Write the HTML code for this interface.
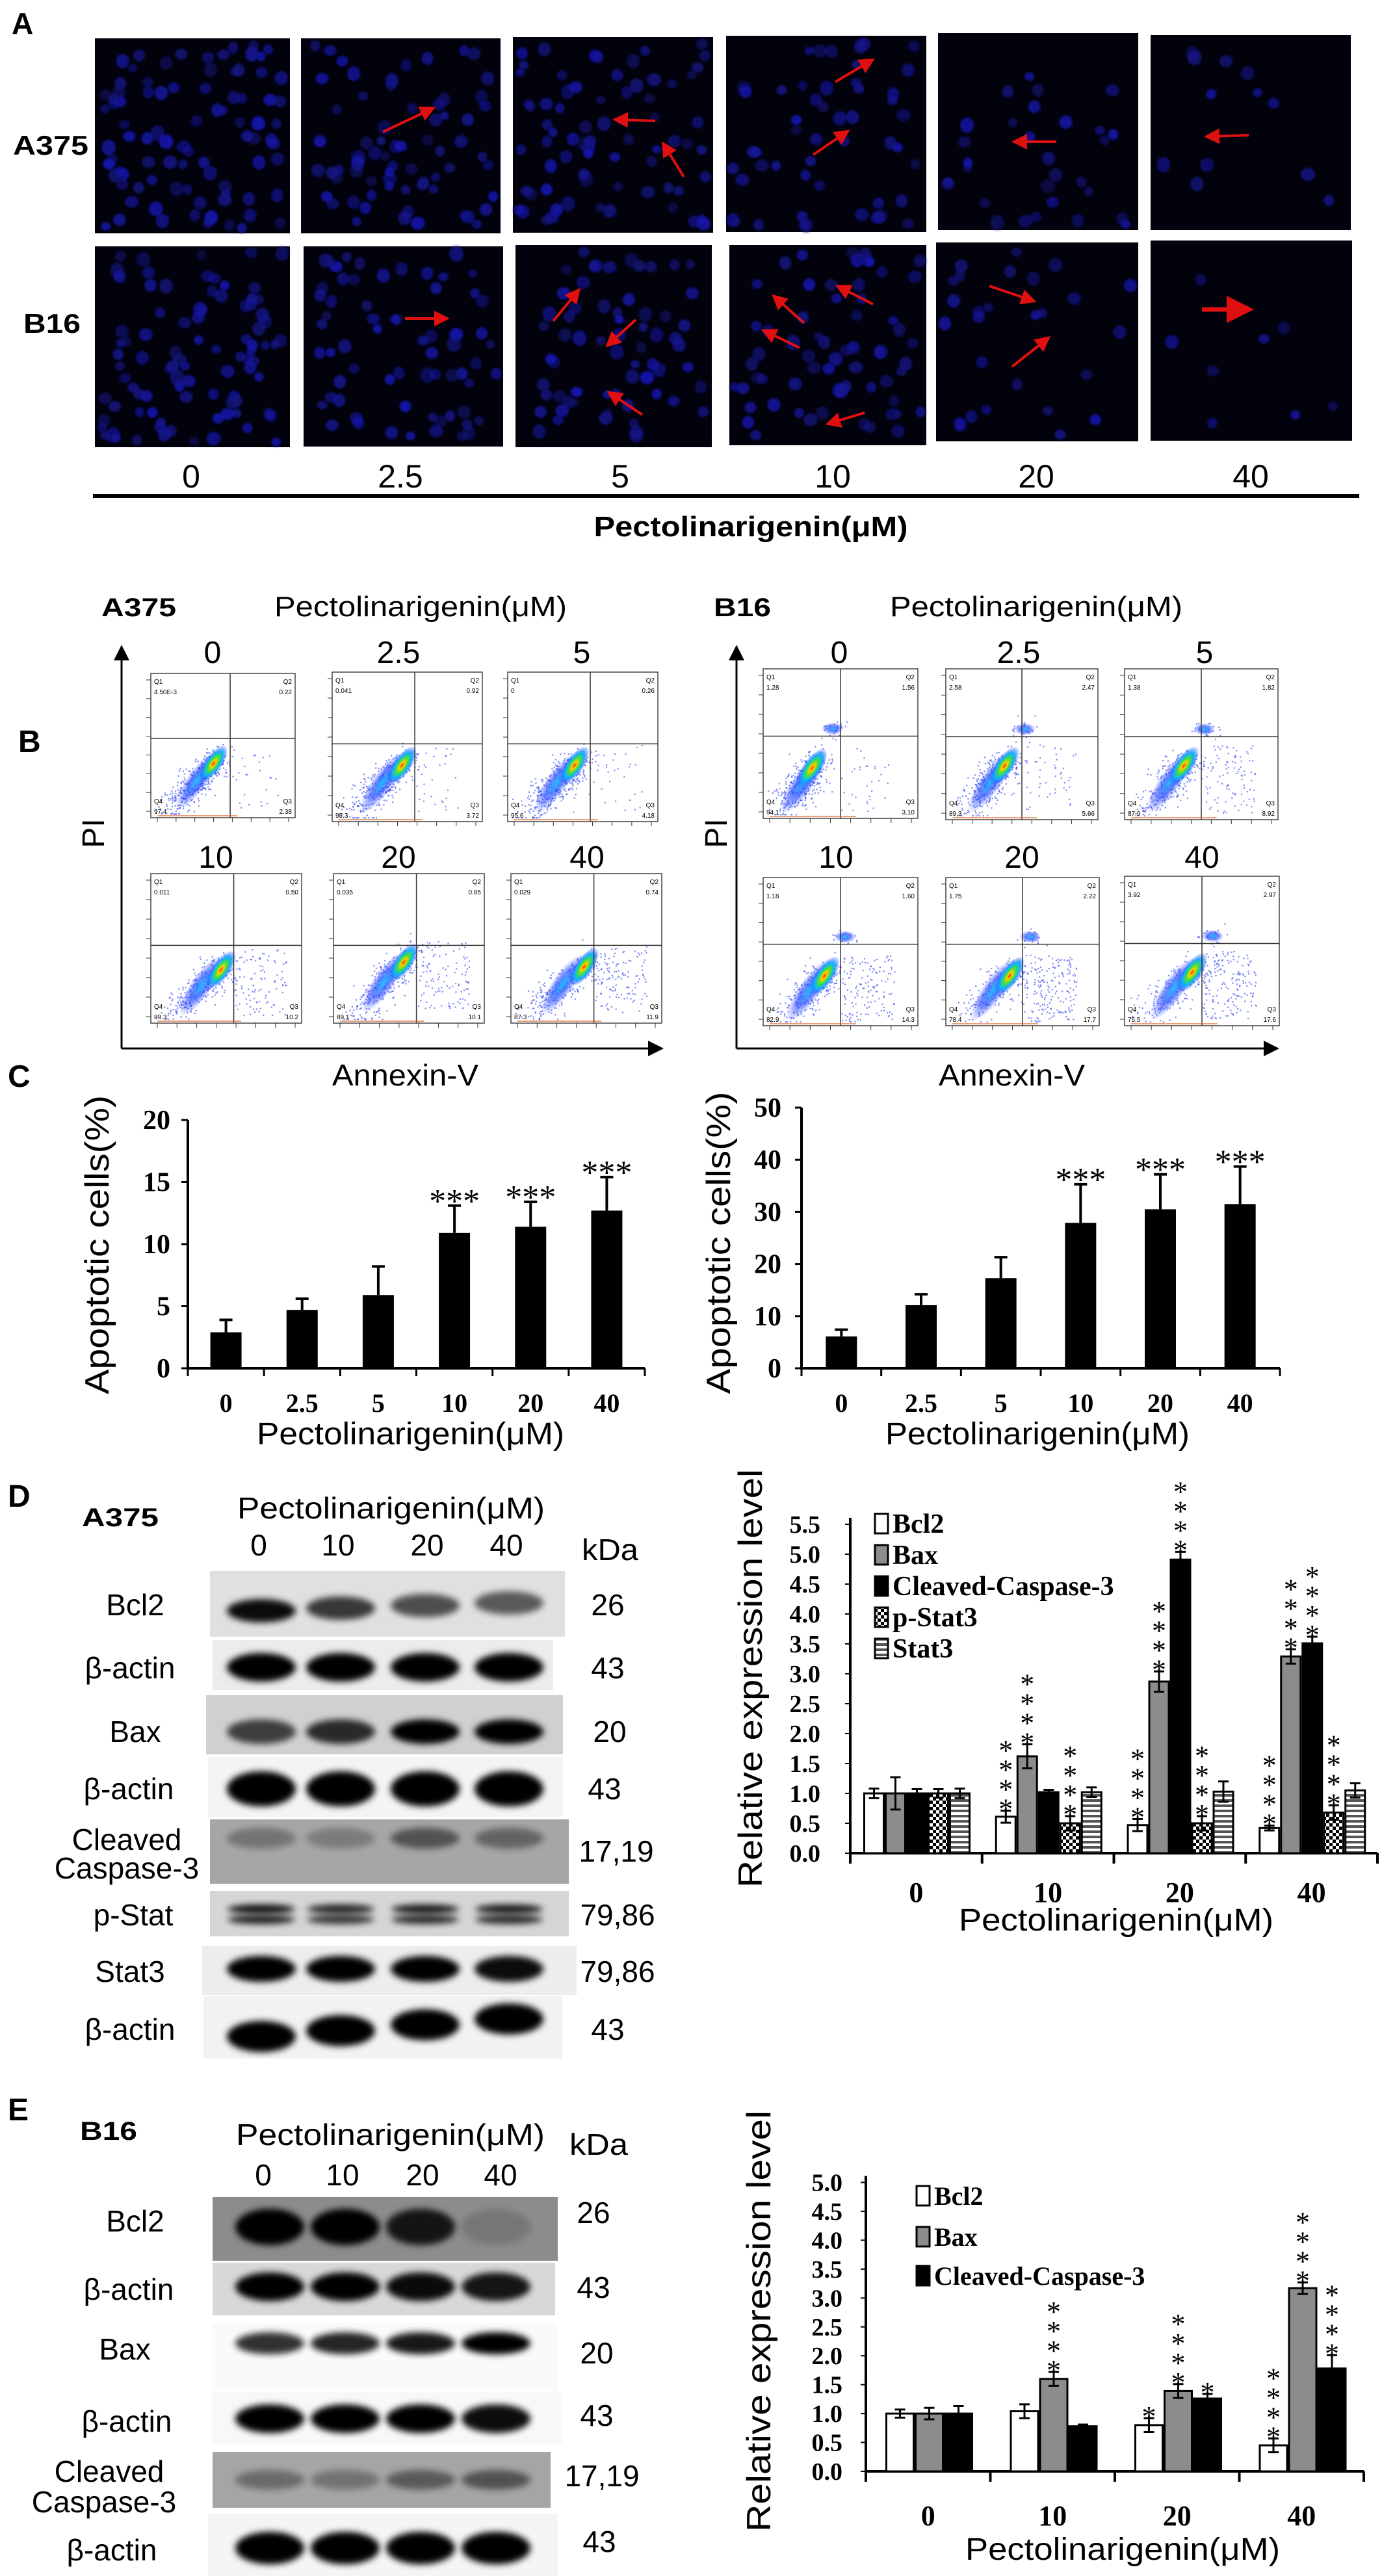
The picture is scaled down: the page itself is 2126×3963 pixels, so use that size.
<!DOCTYPE html>
<html><head><meta charset="utf-8">
<style>
html,body{margin:0;padding:0;background:#fff;width:2126px;height:3963px;overflow:hidden}
svg{display:block}
.s{font-family:"Liberation Sans",sans-serif}
.sb{font-family:"Liberation Sans",sans-serif;font-weight:bold}
.tb{font-family:"Liberation Serif",serif;font-weight:bold}
.t{font-family:"Liberation Serif",serif}
</style></head>
<body>
<svg id="fig" width="2126" height="3963" viewBox="0 0 2126 3963" xmlns="http://www.w3.org/2000/svg">
<defs>
  <marker id="redhead" markerWidth="6" markerHeight="6" refX="4" refY="3" orient="auto" markerUnits="strokeWidth"><path d="M0,0 L6,3 L0,6 z" fill="#e01010"/></marker>
  <marker id="blkhead" markerWidth="8" markerHeight="8" refX="6" refY="4" orient="auto" markerUnits="strokeWidth"><path d="M0,0 L8,4 L0,8 z" fill="#000"/></marker>
  <radialGradient id="hot">
    <stop offset="0%" stop-color="#ff2000"/>
    <stop offset="18%" stop-color="#ffd000"/>
    <stop offset="40%" stop-color="#40e040"/>
    <stop offset="65%" stop-color="#10b0ff"/>
    <stop offset="100%" stop-color="#2040ff" stop-opacity="0"/>
  </radialGradient>
  <radialGradient id="cool">
    <stop offset="0%" stop-color="#20c0ff"/>
    <stop offset="50%" stop-color="#3050ff" stop-opacity="0.7"/>
    <stop offset="100%" stop-color="#3050ff" stop-opacity="0"/>
  </radialGradient>
  <filter id="blur" x="-30%" y="-60%" width="160%" height="220%"><feGaussianBlur stdDeviation="5"/></filter>
  <filter id="soft" x="-50%" y="-50%" width="200%" height="200%"><feGaussianBlur stdDeviation="1.5"/></filter>
  <pattern id="checker" width="10" height="10" patternUnits="userSpaceOnUse"><rect width="10" height="10" fill="#fff"/><rect width="5" height="5" fill="#000"/><rect x="5" y="5" width="5" height="5" fill="#000"/></pattern>
  <pattern id="stripes" width="8" height="8" patternUnits="userSpaceOnUse"><rect width="8" height="8" fill="#fff"/><rect width="8" height="4" fill="#555"/></pattern>
</defs>

<g id="panelA">
  <text class="sb" x="18" y="52" font-size="46">A</text>
  <text class="sb" x="20" y="238" font-size="42" textLength="116" lengthAdjust="spacingAndGlyphs">A375</text>
  <text class="sb" x="36" y="512" font-size="42" textLength="88" lengthAdjust="spacingAndGlyphs">B16</text>
  <g class="s" font-size="50" text-anchor="middle">
    <text x="294" y="750">0</text><text x="616" y="750">2.5</text><text x="954" y="750">5</text>
    <text x="1281" y="750">10</text><text x="1594" y="750">20</text><text x="1924" y="750">40</text>
  </g>
  <rect x="143" y="760" width="1948" height="6" fill="#000"/>
  <text class="sb" x="1155" y="825" font-size="44" text-anchor="middle" textLength="483" lengthAdjust="spacingAndGlyphs">Pectolinarigenin(μM)</text>
</g>

<g id="panelB">
  <text class="sb" x="156" y="948" font-size="40" textLength="115" lengthAdjust="spacingAndGlyphs">A375</text>
  <text class="s" x="422" y="948" font-size="44" textLength="450" lengthAdjust="spacingAndGlyphs">Pectolinarigenin(μM)</text>
  <text class="sb" x="1098" y="948" font-size="40" textLength="88" lengthAdjust="spacingAndGlyphs">B16</text>
  <text class="s" x="1369" y="948" font-size="44" textLength="450" lengthAdjust="spacingAndGlyphs">Pectolinarigenin(μM)</text>
  <text class="sb" x="28" y="1157" font-size="48">B</text>
  <g class="s" font-size="48" text-anchor="middle">
    <text x="327" y="1020">0</text><text x="613" y="1020">2.5</text><text x="895" y="1020">5</text>
    <text x="1291" y="1020">0</text><text x="1567" y="1020">2.5</text><text x="1853" y="1020">5</text>
    <text x="332" y="1335">10</text><text x="613" y="1335">20</text><text x="903" y="1335">40</text>
    <text x="1286" y="1335">10</text><text x="1572" y="1335">20</text><text x="1849" y="1335">40</text>
  </g>
  <line x1="187" y1="1613" x2="187" y2="998" stroke="#000" stroke-width="3" marker-end="url(#blkhead)"/>
  <line x1="187" y1="1613" x2="1015" y2="1613" stroke="#000" stroke-width="3" marker-end="url(#blkhead)"/>
  <line x1="1133" y1="1613" x2="1133" y2="998" stroke="#000" stroke-width="3" marker-end="url(#blkhead)"/>
  <line x1="1133" y1="1613" x2="1962" y2="1613" stroke="#000" stroke-width="3" marker-end="url(#blkhead)"/>
  <text class="s" font-size="48" transform="translate(160,1282) rotate(-90)" text-anchor="middle">PI</text>
  <text class="s" font-size="48" transform="translate(1118,1282) rotate(-90)" text-anchor="middle">PI</text>
  <text class="s" x="511" y="1670" font-size="46" textLength="225" lengthAdjust="spacingAndGlyphs">Annexin-V</text>
  <text class="s" x="1444" y="1670" font-size="46" textLength="225" lengthAdjust="spacingAndGlyphs">Annexin-V</text>
</g>

<g id="panelC">
  <text class="sb" x="12" y="1672" font-size="48">C</text>
  <text class="s" font-size="52" transform="translate(150,1915) rotate(-90)" text-anchor="middle" dominant-baseline="central" textLength="460" lengthAdjust="spacingAndGlyphs">Apoptotic cells(%)</text>
  <text class="s" font-size="52" transform="translate(1106,1912) rotate(-90)" text-anchor="middle" dominant-baseline="central" textLength="465" lengthAdjust="spacingAndGlyphs">Apoptotic cells(%)</text>
  <text class="s" x="395" y="2222" font-size="48" textLength="473" lengthAdjust="spacingAndGlyphs">Pectolinarigenin(μM)</text>
  <text class="s" x="1362" y="2222" font-size="48" textLength="468" lengthAdjust="spacingAndGlyphs">Pectolinarigenin(μM)</text>
</g>

<g id="panelD">
  <text class="sb" x="12" y="2318" font-size="48">D</text>
  <text class="sb" x="126" y="2348" font-size="40" textLength="118" lengthAdjust="spacingAndGlyphs">A375</text>
  <text class="s" x="365" y="2336" font-size="46" textLength="473" lengthAdjust="spacingAndGlyphs">Pectolinarigenin(μM)</text>
  <g class="s" font-size="46" text-anchor="middle">
    <text x="398" y="2393">0</text><text x="520" y="2393">10</text><text x="657" y="2393">20</text><text x="779" y="2393">40</text>
  </g>
  <text class="s" x="895" y="2400" font-size="46" textLength="87" lengthAdjust="spacingAndGlyphs">kDa</text>
  <g class="s" font-size="46" text-anchor="middle">
    <text x="208" y="2485">Bcl2</text><text x="200" y="2582">β-actin</text><text x="208" y="2680">Bax</text>
    <text x="198" y="2768">β-actin</text><text x="195" y="2846">Cleaved</text><text x="195" y="2890">Caspase-3</text>
    <text x="205" y="2962">p-Stat</text><text x="200" y="3049">Stat3</text><text x="200" y="3138">β-actin</text>
  </g>
  <g class="s" font-size="46" text-anchor="middle">
    <text x="935" y="2485">26</text><text x="935" y="2582">43</text><text x="938" y="2680">20</text>
    <text x="930" y="2768">43</text><text x="948" y="2864">17,19</text><text x="950" y="2962">79,86</text>
    <text x="950" y="3049">79,86</text><text x="935" y="3138">43</text>
  </g>
  <text class="s" font-size="52" transform="translate(1155,2582) rotate(-90)" text-anchor="middle" dominant-baseline="central" textLength="644" lengthAdjust="spacingAndGlyphs">Relative expression level</text>
  <text class="s" x="1475" y="2970" font-size="48" textLength="484" lengthAdjust="spacingAndGlyphs">Pectolinarigenin(μM)</text>
</g>

<g id="panelE">
  <text class="sb" x="12" y="3262" font-size="48">E</text>
  <text class="sb" x="123" y="3292" font-size="40" textLength="88" lengthAdjust="spacingAndGlyphs">B16</text>
  <text class="s" x="363" y="3300" font-size="46" textLength="475" lengthAdjust="spacingAndGlyphs">Pectolinarigenin(μM)</text>
  <text class="s" x="876" y="3315" font-size="46" textLength="90" lengthAdjust="spacingAndGlyphs">kDa</text>
  <g class="s" font-size="46" text-anchor="middle">
    <text x="405" y="3362">0</text><text x="527" y="3362">10</text><text x="650" y="3362">20</text><text x="770" y="3362">40</text>
  </g>
  <g class="s" font-size="46" text-anchor="middle">
    <text x="208" y="3433">Bcl2</text><text x="198" y="3538">β-actin</text><text x="192" y="3630">Bax</text>
    <text x="195" y="3741">β-actin</text><text x="168" y="3818">Cleaved</text><text x="160" y="3865">Caspase-3</text>
    <text x="172" y="3939">β-actin</text>
  </g>
  <g class="s" font-size="46" text-anchor="middle">
    <text x="913" y="3420">26</text><text x="913" y="3535">43</text><text x="918" y="3636">20</text>
    <text x="918" y="3732">43</text><text x="926" y="3825">17,19</text><text x="922" y="3926">43</text>
  </g>
  <text class="s" font-size="52" transform="translate(1168,3571) rotate(-90)" text-anchor="middle" dominant-baseline="central" textLength="648" lengthAdjust="spacingAndGlyphs">Relative expression level</text>
  <text class="s" x="1485" y="3938" font-size="48" textLength="484" lengthAdjust="spacingAndGlyphs">Pectolinarigenin(μM)</text>
</g>
</svg>

<script>
const cCats = ['0','2.5','5','10','20','40'];
const cA375Vals = [2.9, 4.7, 5.9, 10.9, 11.4, 12.7];
const cA375Errs = [1.0, 0.9, 2.3, 2.2, 2.0, 2.7];
const cA375Ticks = ['0','5','10','15','20'];
const cB16Vals = [6.1, 12.1, 17.3, 27.9, 30.5, 31.5];
const cB16Errs = [1.3, 2.1, 4.0, 7.4, 6.7, 7.2];
const cB16Ticks = ['0','10','20','30','40','50'];
const cStars = ['', '', '', '***', '***', '***'];

const dGroups = ['0','10','20','40'];
const dSeriesNames = ['Bcl2','Bax','Cleaved-Caspase-3','p-Stat3','Stat3'];
const dBcl2 = [1.0, 0.61, 0.47, 0.42];
const dBax = [1.0, 1.62, 2.87, 3.29];
const dCasp = [1.0, 1.02, 4.91, 3.51];
const dPStat3 = [1.0, 0.50, 0.50, 0.68];
const dStat3 = [1.0, 1.02, 1.03, 1.05];
const dBcl2Err = [0.08, 0.1, 0.1, 0.04];
const dBaxErr = [0.27, 0.2, 0.17, 0.12];
const dCaspErr = [0.07, 0.04, 0.13, 0.11];
const dPStat3Err = [0.07, 0.12, 0.12, 0.12];
const dStat3Err = [0.08, 0.08, 0.17, 0.12];
const dBcl2Stars = [0, 4, 4, 4];
const dBaxStars = [0, 4, 4, 4];
const dCaspStars = [0, 0, 4, 4];
const dPStat3Stars = [0, 4, 4, 4];
const dStat3Stars = [0, 0, 0, 0];
const dTicks = ['0.0','0.5','1.0','1.5','2.0','2.5','3.0','3.5','4.0','4.5','5.0','5.5'];

const eGroups = ['0','10','20','40'];
const eSeriesNames = ['Bcl2','Bax','Cleaved-Caspase-3'];
const eBcl2 = [1.0, 1.04, 0.80, 0.45];
const eBax = [1.0, 1.60, 1.39, 3.17];
const eCasp = [1.0, 0.78, 1.26, 1.78];
const eBcl2Err = [0.07, 0.12, 0.12, 0.12];
const eBaxErr = [0.1, 0.12, 0.12, 0.1];
const eCaspErr = [0.13, 0.03, 0.08, 0.23];
const eBcl2Stars = [0, 0, 1, 4];
const eBaxStars = [0, 4, 4, 4];
const eCaspStars = [0, 0, 1, 4];
const eTicks = ['0.0','0.5','1.0','1.5','2.0','2.5','3.0','3.5','4.0','4.5','5.0'];

const NS = 'http://www.w3.org/2000/svg';
const svg = document.getElementById('fig');
function mk(tag, attrs, parent) {
  const e = document.createElementNS(NS, tag);
  for (const k in attrs) e.setAttribute(k, attrs[k]);
  (parent || svg).appendChild(e);
  return e;
}
let seed = 12345;
function rnd() { seed |= 0; seed = seed + 0x6D2B79F5 | 0; let t = Math.imul(seed ^ seed >>> 15, 1 | seed); t = t + Math.imul(t ^ t >>> 7, 61 | t) ^ t; return ((t ^ t >>> 14) >>> 0) / 4294967296; }
function gauss() { let u = rnd() || 1e-6, v = rnd(); return Math.sqrt(-2 * Math.log(u)) * Math.cos(2 * Math.PI * v); }

const micro = [
  [146,59,300,300,90],[463,59,307,300,70],[789,57,308,301,70],[1117,55,308,302,50],[1443,51,308,303,30],[1770,54,308,300,12],
  [146,379,300,309,90],[467,379,307,308,65],[793,377,302,311,65],[1122,377,303,308,65],[1440,373,311,306,26],[1770,370,310,308,8]
];
const panelA = document.getElementById('panelA');
micro.forEach((m, i) => {
  const g = mk('g', {}, panelA);
  
  
  mk('rect', {x: m[0], y: m[1], width: m[2], height: m[3], fill: '#02020c'}, g);
  for (let k = 0; k < m[4]; k++) {
    const r = 7 + rnd() * 4;
    const c = mk('ellipse', {cx: m[0] + r + rnd() * (m[2] - 2 * r), cy: m[1] + r + rnd() * (m[3] - 2 * r), rx: r, ry: r * (0.85 + rnd() * 0.3), fill: 'rgb(20,25,' + (120 + Math.floor(rnd() * 70)) + ')', opacity: (0.45 + rnd() * 0.45).toFixed(2), filter: 'url(#soft)'}, g);
    
  }
});
const arrows = [
  [589,203,663,168],[1008,186,950,184],[1052,272,1022,224],[1285,126,1339,94],[1251,238,1301,204],[1625,218,1564,218],[1921,208,1860,210],
  [623,490,684,490],[851,494,888,449],[978,492,937,529],[988,638,940,606],[1237,497,1193,458],[1343,468,1292,442],[1230,535,1178,510],[1330,635,1277,651],
  [1522,440,1587,462],[1557,564,1610,522],[1849,476,1915,476]
];
arrows.forEach((a, i) => {
  const l = mk('line', {x1: a[0], y1: a[1], x2: a[2], y2: a[3], stroke: '#e01010', 'stroke-width': i === arrows.length - 1 ? 7 : 4, 'marker-end': 'url(#redhead)'}, panelA);
  
  
});

const flows = [
  [232,1036,222,222,0.47,0.58,0.55,0.45,['4.50E-3','0.22','2.38','97.4'],0],
  [511,1034,231,230,0.50,0.58,0.55,0.48,['0.041','0.92','3.72','95.3'],0],
  [781,1034,231,230,0.48,0.58,0.55,0.48,['0','0.26','4.18','95.6'],0],
  [232,1344,232,230,0.50,0.60,0.55,0.48,['0.011','0.50','10.2','89.3'],0],
  [513,1344,232,230,0.50,0.55,0.55,0.48,['0.035','0.85','10.1','89.1'],0],
  [786,1344,232,230,0.52,0.58,0.55,0.48,['0.029','0.74','11.9','87.3'],0],
  [1174,1029,238,230,0.35,0.62,0.50,0.45,['1.28','1.56','3.10','94.1'],1],
  [1455,1029,234,232,0.42,0.60,0.50,0.45,['2.58','2.47','5.66','89.3'],1],
  [1730,1029,236,232,0.42,0.60,0.50,0.45,['1.38','1.82','8.92','87.9'],1],
  [1174,1350,238,228,0.43,0.62,0.50,0.45,['1.18','1.60','14.3','82.9'],1],
  [1455,1350,236,228,0.45,0.62,0.50,0.45,['1.75','2.22','17.7','78.4'],1],
  [1730,1348,238,230,0.47,0.60,0.50,0.45,['3.92','2.97','17.6','75.5'],1]
];
const panelB = document.getElementById('panelB');
flows.forEach((f) => {
  const [x, y, w, h, hx, hy, vq, hq, nums, b16] = f;
  const g = mk('g', {}, panelB);
  
  
  mk('rect', {x: x, y: y, width: w, height: h, fill: '#fff', stroke: '#444', 'stroke-width': 1.5}, g);
  const q3 = parseFloat(nums[2]);
  const N = 420;
  for (let k = 0; k < N; k++) {
    const t = Math.pow(rnd(), 0.7);
    let px = 0.12 + t * (hx - 0.12) + gauss() * 0.06;
    let py = 0.96 - t * (0.96 - hy) + gauss() * 0.05;
    if (rnd() < q3 / 40) { px = vq + rnd() * 0.35; py = hy - 0.1 + rnd() * 0.45; }
    if (b16 && rnd() < 0.06) { px = hx + 0.1 + gauss() * 0.05; py = hq - 0.05 + gauss() * 0.03; }
    px = Math.min(0.98, Math.max(0.03, px)); py = Math.min(0.97, Math.max(0.03, py));
    mk('rect', {x: x + px * w, y: y + py * h, width: 2.2, height: 2.2, fill: '#2a3cf0', opacity: 0.6}, g);
  }
  mk('ellipse', {cx: x + (0.1 + hx) / 2 * w + 8, cy: y + (0.9 + hy) / 2 * h, rx: w * 0.24, ry: w * 0.07, fill: 'url(#cool)', transform: 'rotate(-55 ' + (x + (0.1 + hx) / 2 * w + 8) + ' ' + (y + (0.9 + hy) / 2 * h) + ')'}, g);
  mk('ellipse', {cx: x + hx * w - 8, cy: y + hy * h + 10, rx: w * 0.15, ry: w * 0.06, fill: 'url(#hot)', transform: 'rotate(-55 ' + (x + hx * w - 8) + ' ' + (y + hy * h + 10) + ')'}, g);
  if (b16) mk('ellipse', {cx: x + (hx + 0.1) * w, cy: y + (hq - 0.05) * h, rx: w * 0.07, ry: w * 0.04, fill: 'url(#cool)'}, g);
  mk('line', {x1: x + vq * w, y1: y, x2: x + vq * w, y2: y + h, stroke: '#333', 'stroke-width': 1.5}, g);
  mk('line', {x1: x, y1: y + hq * h, x2: x + w, y2: y + hq * h, stroke: '#333', 'stroke-width': 1.5}, g);
  const lab = [['Q1', nums[0], x + 5, y + 16, 'start'], ['Q2', nums[1], x + w - 5, y + 16, 'end'], ['Q4', nums[3], x + 5, y + h - 22, 'start'], ['Q3', nums[2], x + w - 5, y + h - 22, 'end']];
  lab.forEach(l => {
    const t1 = mk('text', {x: l[2], y: l[3], 'font-size': 10, 'text-anchor': l[4], 'font-family': 'Liberation Sans, sans-serif'}, g);
    t1.textContent = l[0];
    
    const t2 = mk('text', {x: l[2], y: l[3] + 16, 'font-size': 10, 'text-anchor': l[4], 'font-family': 'Liberation Sans, sans-serif'}, g);
    t2.textContent = l[1];
    
  });
  for (let k = 0; k <= 7; k++) {
    mk('line', {x1: x + 10 + k * (w - 20) / 7, y1: y + h, x2: x + 10 + k * (w - 20) / 7, y2: y + h + 7, stroke: '#333', 'stroke-width': 1}, g);
    mk('line', {x1: x - 7, y1: y + h - 10 - k * (h - 20) / 7, x2: x, y2: y + h - 10 - k * (h - 20) / 7, stroke: '#333', 'stroke-width': 1}, g);
  }
  mk('line', {x1: x + 10, y1: y + h - 3, x2: x + w * 0.6, y2: y + h - 3, stroke: '#e06020', 'stroke-width': 2, opacity: 0.6}, g);
});

function blot(parent, name, x, y, w, h, bg, lanes, ints, cy, bh, dbl, tilt) {
  const g = mk('g', {}, parent);
  
  
  mk('rect', {x: x, y: y, width: w, height: h, fill: bg}, g);
  lanes.forEach((lx, i) => {
    const yy = cy - (tilt ? tilt * i : 0);
    if (dbl) {
      mk('ellipse', {cx: lx, cy: yy - 8, rx: 52, ry: 7, fill: '#000', opacity: ints[i], filter: 'url(#blur)'}, g);
      mk('ellipse', {cx: lx, cy: yy + 8, rx: 52, ry: 7, fill: '#000', opacity: ints[i] * 0.9, filter: 'url(#blur)'}, g);
    } else {
      mk('ellipse', {cx: lx, cy: yy, rx: 53, ry: bh / 2, fill: '#000', opacity: ints[i], filter: 'url(#blur)'}, g);
    }
  });
}
const pD = document.getElementById('panelD');
const dL = [402, 524, 654, 783];
blot(pD, 'blot-bcl2', 323, 2417, 546, 101, '#e0e0e0', dL, [0.95, 0.75, 0.65, 0.6], 2478, 36, false, 4);
blot(pD, 'blot-beta-actin-1', 327, 2523, 524, 77, '#ececec', dL, [1, 1, 1, 1], 2565, 44);
blot(pD, 'blot-bax', 317, 2608, 549, 91, '#d0d0d0', dL, [0.7, 0.8, 1, 1], 2664, 38);
blot(pD, 'blot-beta-actin-2', 320, 2703, 546, 92, '#f4f4f4', dL, [1, 1, 1, 1], 2752, 54);
blot(pD, 'blot-cleaved-caspase-3', 323, 2799, 552, 99, '#a6a6a6', dL, [0.3, 0.25, 0.5, 0.4], 2828, 32);
blot(pD, 'blot-p-stat3', 323, 2909, 552, 70, '#d5d5d5', dL, [0.95, 0.85, 0.9, 0.9], 2945, 30, true);
blot(pD, 'blot-stat3', 311, 2994, 576, 75, '#ededed', dL, [1, 1, 1, 0.95], 3029, 40);
blot(pD, 'blot-beta-actin-3', 313, 3071, 552, 96, '#f2f2f2', dL, [1, 1, 1, 1], 3133, 48, false, 9);
const pE = document.getElementById('panelE');
const eL = [415, 531, 647, 763];
blot(pE, 'blot-bcl2', 327, 3380, 531, 98, '#8c8c8c', eL, [1, 1, 0.85, 0.15], 3426, 56);
blot(pE, 'blot-beta-actin-1', 327, 3481, 527, 81, '#d8d8d8', eL, [1, 1, 0.95, 0.9], 3518, 44);
blot(pE, 'blot-bax', 327, 3574, 531, 102, '#fafafa', eL, [0.8, 0.85, 0.9, 1], 3605, 34);
blot(pE, 'blot-beta-actin-2', 327, 3679, 538, 80, '#f8f8f8', eL, [1, 1, 1, 0.95], 3721, 44);
blot(pE, 'blot-cleaved-caspase-3', 327, 3772, 520, 86, '#a5a5a5', eL, [0.35, 0.3, 0.45, 0.5], 3815, 30);
blot(pE, 'blot-beta-actin-3', 320, 3867, 538, 96, '#f5f5f5', eL, [1, 1, 1, 1], 3920, 50);

const pC = document.getElementById('panelC');
function simpleChart(prefix, ax, xEnd, y0, ymax, yTopPx, ticks, vals, errs, labelRight) {
  const tmax = parseFloat(ticks[ticks.length - 1]);
  const sy = v => y0 - v / tmax * (y0 - yTopPx);
  const n = cCats.length, step = (xEnd - ax) / n, bw = 48;
  const yl = mk('line', {x1: ax, y1: y0, x2: ax, y2: yTopPx, stroke: '#000', 'stroke-width': 4}, pC);
  
  const xl = mk('line', {x1: ax - 2, y1: y0, x2: xEnd, y2: y0, stroke: '#000', 'stroke-width': 4}, pC);
  
  ticks.forEach(t => {
    const yy = sy(parseFloat(t));
    mk('line', {x1: ax - 10, y1: yy, x2: ax, y2: yy, stroke: '#000', 'stroke-width': 3}, pC);
    const tx = mk('text', {x: labelRight, y: yy + 14, 'text-anchor': 'end', 'font-size': 42, class: 'tb'}, pC);
    tx.textContent = t;
    
  });
  for (let i = 0; i <= n; i++) mk('line', {x1: ax + i * step, y1: y0, x2: ax + i * step, y2: y0 + 12, stroke: '#000', 'stroke-width': 3}, pC);
  cCats.forEach((c, i) => {
    const cx = ax + (i + 0.5) * step;
    const bar = mk('rect', {x: cx - bw / 2, y: sy(vals[i]), width: bw, height: y0 - sy(vals[i]), fill: '#000'}, pC);
    
    
    const et = sy(vals[i] + errs[i]);
    const eb = mk('path', {d: 'M' + cx + ',' + sy(vals[i]) + 'V' + et + 'M' + (cx - 10) + ',' + et + 'H' + (cx + 10), stroke: '#000', 'stroke-width': 4, fill: 'none'}, pC);
    
    const lb = mk('text', {x: cx, y: 2172, 'text-anchor': 'middle', 'font-size': 40, class: 'tb'}, pC);
    lb.textContent = c;
    
    if (cStars[i]) {
      const st = mk('text', {x: cx, y: et + 10, 'text-anchor': 'middle', 'font-size': 52, class: 't'}, pC);
      st.textContent = cStars[i];
      
    }
  });
}
simpleChart('c-a375', 289, 992, 2105, 20, 1723, cA375Ticks, cA375Vals, cA375Errs, 262);
simpleChart('c-b16', 1233, 1969, 2105, 50, 1704, cB16Ticks, cB16Vals, cB16Errs, 1202);

function grouped(parent, prefix, ax, xEnd, y0, ppu, groups, names, vals, errs, stars, fills, bw, off, ticks, labRight, glabY, legX, legYs, legFont) {
  const sy = v => y0 - v * ppu;
  const top = sy(parseFloat(ticks[ticks.length - 1]));
  const yl = mk('line', {x1: ax, y1: y0, x2: ax, y2: top - 10, stroke: '#000', 'stroke-width': 4}, parent);
  
  const xl = mk('line', {x1: ax - 2, y1: y0, x2: xEnd, y2: y0, stroke: '#000', 'stroke-width': 4}, parent);
  
  ticks.forEach(t => {
    const yy = sy(parseFloat(t));
    mk('line', {x1: ax - 8, y1: yy, x2: ax, y2: yy, stroke: '#000', 'stroke-width': 2}, parent);
    const tx = mk('text', {x: labRight, y: yy + 13, 'text-anchor': 'end', 'font-size': 38, class: 'tb'}, parent);
    tx.textContent = t;
    
  });
  const gw = (xEnd - ax) / groups.length;
  for (let i = 0; i <= groups.length; i++) mk('line', {x1: ax + i * gw, y1: y0, x2: ax + i * gw, y2: y0 + 16, stroke: '#000', 'stroke-width': 4}, parent);
  groups.forEach((gname, gi) => {
    const lb = mk('text', {x: ax + (gi + 0.5) * gw, y: glabY, 'text-anchor': 'middle', 'font-size': 44, class: 'tb'}, parent);
    lb.textContent = gname;
    
    names.forEach((sn, si) => {
      const v = vals[si][gi], x = ax + gi * gw + off + si * bw, cx = x + bw / 2;
      const bar = mk('rect', {x: x + 1.5, y: sy(v), width: bw - 3, height: y0 - sy(v), fill: fills[si], stroke: '#000', 'stroke-width': 3}, parent);
      
      
      const et = sy(v + errs[si][gi]), ebt = sy(v - errs[si][gi]);
      const eb = mk('path', {d: 'M' + cx + ',' + ebt + 'V' + et + 'M' + (cx - 8) + ',' + et + 'H' + (cx + 8) + 'M' + (cx - 8) + ',' + ebt + 'H' + (cx + 8), stroke: '#000', 'stroke-width': 3, fill: 'none'}, parent);
      
      for (let k = 0; k < stars[si][gi]; k++) {
        const st = mk('text', {x: cx, y: et + 12 - k * 30, 'text-anchor': 'middle', 'font-size': 44, class: 't'}, parent);
        st.textContent = '*';
        
      }
    });
  });
  names.forEach((sn, si) => {
    const box = mk('rect', {x: legX, y: legYs[si] - 15, width: 20, height: 30, fill: fills[si], stroke: '#000', 'stroke-width': 3}, parent);
    
    const tx = mk('text', {x: legX + 27, y: legYs[si] + 14, 'font-size': legFont, class: 'tb'}, parent);
    tx.textContent = sn;
    
  });
}
grouped(pD, 'd', 1308, 2119, 2851, 92, dGroups, dSeriesNames,
  [dBcl2, dBax, dCasp, dPStat3, dStat3], [dBcl2Err, dBaxErr, dCaspErr, dPStat3Err, dStat3Err],
  [dBcl2Stars, dBaxStars, dCaspStars, dPStat3Stars, dStat3Stars],
  ['#fff', '#8c8c8c', '#000', 'url(#checker)', 'url(#stripes)'], 33, 20, dTicks, 1262, 2926,
  1346, [2344, 2392, 2440, 2488, 2536], 42);
grouped(pE, 'e', 1332, 2098, 3802, 88.9, eGroups, eSeriesNames,
  [eBcl2, eBax, eCasp], [eBcl2Err, eBaxErr, eCaspErr],
  [eBcl2Stars, eBaxStars, eCaspStars],
  ['#fff', '#8c8c8c', '#000'], 45, 30, eTicks, 1296, 3885,
  1410, [3378, 3441, 3501], 40);
</script>
</body></html>
